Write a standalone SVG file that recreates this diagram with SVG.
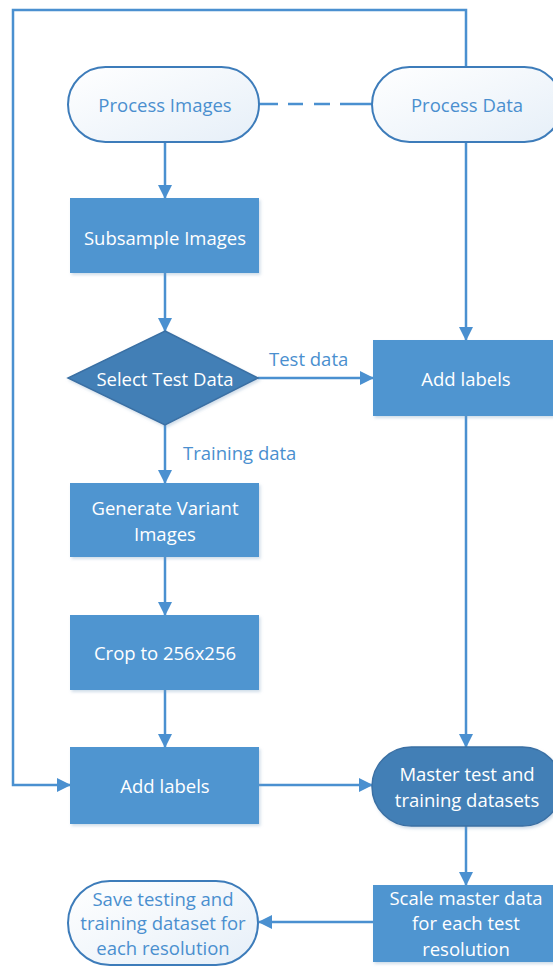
<svg xmlns="http://www.w3.org/2000/svg" width="553" height="968" viewBox="0 0 553 968">
  <defs>
    <linearGradient id="termFill" x1="0" y1="0" x2="1" y2="1">
      <stop offset="0" stop-color="#ffffff"/>
      <stop offset="1" stop-color="#e6eff8"/>
    </linearGradient>
    <marker id="arrow" viewBox="0 0 14 14" refX="13" refY="7" markerWidth="14" markerHeight="14" markerUnits="userSpaceOnUse" orient="auto">
      <path d="M0,0 L14,7 L0,14 Z" fill="#4a90d0"/>
    </marker>
    <filter id="shadow" x="-10%" y="-10%" width="130%" height="130%">
      <feDropShadow dx="1.5" dy="2" stdDeviation="1.5" flood-color="#7a9cc0" flood-opacity="0.35"/>
    </filter>
  </defs>
  <style>
    .conn { fill: none; stroke: #4a90d0; stroke-width: 2.5; }
    .dash { stroke-dasharray: 19 10 15 11 16 10 40; }
    .box { fill: #4f95d0; filter: url(#shadow); }
    .dark { fill: #437fb6; stroke: #3a70a4; stroke-width: 1.5; filter: url(#shadow); }
    .term { fill: url(#termFill); stroke: #3d7cba; stroke-width: 2; }
    .light { font-family: "Open Sans", Lato, "Liberation Sans", sans-serif; font-size: 18.5px; fill: #ffffff; text-anchor: middle; dominant-baseline: central; }
    .blue { font-family: "Open Sans", Lato, "Liberation Sans", sans-serif; font-size: 18.5px; fill: #4a8fcf; text-anchor: middle; dominant-baseline: central; }
    .lbl { font-family: "Open Sans", Lato, "Liberation Sans", sans-serif; font-size: 18.5px; fill: #4a8fcf; dominant-baseline: central; }
  </style>

  <g id="connectors">
    <!-- feedback loop from Process Data round the left side into the lower Add labels -->
    <path class="conn" d="M466,67 V10 H13 V785 H70" marker-end="url(#arrow)"/>
    <path class="conn dash" d="M259,104 H372"/>
    <path class="conn" d="M165,142 V198" marker-end="url(#arrow)"/>
    <path class="conn" d="M165,273 V331" marker-end="url(#arrow)"/>
    <path class="conn" d="M258,378 H373" marker-end="url(#arrow)"/>
    <path class="conn" d="M466,142 V340" marker-end="url(#arrow)"/>
    <path class="conn" d="M165,425 V483" marker-end="url(#arrow)"/>
    <path class="conn" d="M165,557 V615" marker-end="url(#arrow)"/>
    <path class="conn" d="M165,690 V747" marker-end="url(#arrow)"/>
    <path class="conn" d="M466,416 V747" marker-end="url(#arrow)"/>
    <path class="conn" d="M259,785 H372" marker-end="url(#arrow)"/>
    <path class="conn" d="M466,826 V885" marker-end="url(#arrow)"/>
    <path class="conn" d="M373,922 H259" marker-end="url(#arrow)"/>
    <text class="lbl" x="269" y="358">Test data</text>
    <text class="lbl" x="183" y="452">Training data</text>
  </g>

  <g id="process-images">
    <rect class="term" x="68" y="67" width="191" height="75" rx="37.5"/>
    <text class="blue" x="165" y="104">Process Images</text>
  </g>

  <g id="process-data">
    <rect class="term" x="372" y="67" width="190" height="75" rx="37.5"/>
    <text class="blue" x="467" y="104">Process Data</text>
  </g>

  <g id="subsample-images">
    <rect class="box" x="70" y="198" width="189" height="75"/>
    <text class="light" x="165" y="237">Subsample Images</text>
  </g>

  <g id="select-test-data">
    <path class="dark" d="M165,331 L258,378 L165,425 L68,378 Z"/>
    <text class="light" x="165" y="378">Select Test Data</text>
  </g>

  <g id="add-labels-test">
    <rect class="box" x="373" y="340" width="185" height="76"/>
    <text class="light" x="466" y="378">Add labels</text>
  </g>

  <g id="generate-variant-images">
    <rect class="box" x="70" y="483" width="189" height="74"/>
    <text class="light" x="165" y="507">Generate Variant</text>
    <text class="light" x="165" y="533">Images</text>
  </g>

  <g id="crop">
    <rect class="box" x="70" y="615" width="189" height="75"/>
    <text class="light" x="165" y="652">Crop to 256x256</text>
  </g>

  <g id="add-labels-training">
    <rect class="box" x="70" y="747" width="189" height="77"/>
    <text class="light" x="165" y="785">Add labels</text>
  </g>

  <g id="master-datasets">
    <rect class="dark" x="372" y="747" width="190" height="79" rx="39.5"/>
    <text class="light" x="467" y="773">Master test and</text>
    <text class="light" x="467" y="799">training datasets</text>
  </g>

  <g id="scale-master-data">
    <rect class="box" x="373" y="885" width="185" height="77"/>
    <text class="light" x="466" y="897">Scale master data</text>
    <text class="light" x="466" y="922">for each test</text>
    <text class="light" x="466" y="948">resolution</text>
  </g>

  <g id="save-datasets">
    <rect class="term" x="68" y="881" width="190" height="84" rx="42"/>
    <text class="blue" x="163" y="898">Save testing and</text>
    <text class="blue" x="163" y="922">training dataset for</text>
    <text class="blue" x="163" y="947">each resolution</text>
  </g>
</svg>
